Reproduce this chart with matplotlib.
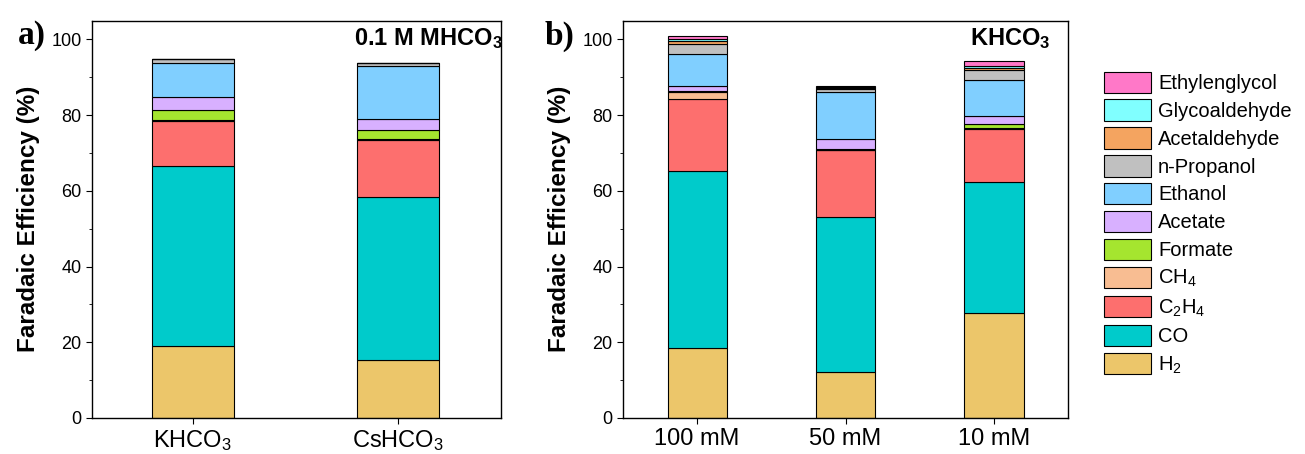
import matplotlib
matplotlib.use("Agg")
import matplotlib.pyplot as plt
from matplotlib.patches import Patch
from matplotlib.ticker import MultipleLocator
import numpy as np

plt.rcParams['font.family'] = ['Liberation Sans', 'DejaVu Sans']
plt.rcParams['mathtext.fontset'] = 'custom'
plt.rcParams['mathtext.rm'] = 'Liberation Sans'
plt.rcParams['mathtext.it'] = 'Liberation Sans:italic'
plt.rcParams['mathtext.bf'] = 'Liberation Sans:bold'
plt.rcParams['mathtext.default'] = 'regular'

# products, bottom to top
products = ['H$_2$', 'CO', 'C$_2$H$_4$', 'CH$_4$', 'Formate', 'Acetate', 'Ethanol',
            'n-Propanol', 'Acetaldehyde', 'Glycoaldehyde', 'Ethylenglycol']
colors = ['#ECC66A', '#00CBCB', '#FD6F6E', '#F8BD92', '#A5E52F', '#D8B0FF', '#80CFFF',
          '#C0C0C0', '#F4A460', '#80FFFF', '#FF78C8']

# panel a) faradaic efficiency (%) per product
cats_a = ['KHCO$_3$', 'CsHCO$_3$']
fe_khco3 = [19.1, 47.4, 11.9, 0.3, 2.7, 3.3, 9.2, 1.0, 0.0, 0.0, 0.0]
fe_cshco3 = [15.2, 43.1, 15.1, 0.3, 2.5, 2.8, 13.9, 0.8, 0.0, 0.0, 0.0]

# panel b) KHCO3 concentration
cats_b = ['100 mM', '50 mM', '10 mM']
fe_100 = [18.4, 46.9, 18.9, 1.9, 0.4, 1.2, 8.5, 2.7, 0.7, 0.4, 0.9]
fe_50 = [12.2, 40.9, 17.6, 0.2, 0.2, 2.6, 12.4, 0.8, 0.3, 0.2, 0.3]
fe_10 = [27.8, 34.5, 14.1, 0.3, 0.9, 2.3, 9.5, 2.5, 0.6, 0.6, 1.2]

fig = plt.figure(figsize=(13.05, 4.54), dpi=100)
ax_a = fig.add_axes([0.0705, 0.0793, 0.3134, 0.8755])
ax_b = fig.add_axes([0.4774, 0.0793, 0.3410, 0.8755])


def stacked(ax, cats, data, xlim):
	data = np.array(data)
	ind = np.arange(len(cats))
	bottom = np.zeros(len(cats))
	for i in range(len(products)):
		ax.bar(ind, data[:, i], 0.4, bottom=bottom, color=colors[i],
			   edgecolor='black', linewidth=0.8)
		bottom += data[:, i]
	ax.set_xlim(*xlim)
	ax.set_ylim(0, 105)
	ax.set_xticks(ind)
	ax.set_xticklabels(cats, fontsize=17)
	ax.set_yticks(np.arange(0, 101, 20))
	ax.yaxis.set_minor_locator(MultipleLocator(10))
	ax.tick_params(axis='y', labelsize=13, direction='out', length=4)
	ax.tick_params(axis='y', which='minor', length=2)
	ax.tick_params(axis='x', direction='out', length=4)
	ax.set_ylabel('Faradaic Efficiency (%)', fontsize=17.5, fontweight='bold', labelpad=8)
	for s in ax.spines.values():
		s.set_linewidth(1.0)


stacked(ax_a, cats_a, [fe_khco3, fe_cshco3], (-0.49, 1.5))
stacked(ax_b, cats_b, [fe_100, fe_50, fe_10], (-0.5, 2.5))

ax_a.text(1.005, 0.985, r'0.1 M MHCO$_\mathbf{3}$', transform=ax_a.transAxes,
		  ha='right', va='top', fontsize=17, fontweight='bold')
ax_b.text(0.96, 0.985, r'KHCO$_\mathbf{3}$', transform=ax_b.transAxes,
		  ha='right', va='top', fontsize=17, fontweight='bold')

fig.text(0.014, 0.955, 'a)', fontsize=24, fontweight='bold', family='Liberation Serif', va='top')
fig.text(0.417, 0.955, 'b)', fontsize=24, fontweight='bold', family='Liberation Serif', va='top')

handles = [Patch(facecolor=c, edgecolor='black', linewidth=0.8) for c in colors]
fig.legend(handles[::-1], products[::-1], loc='upper left', bbox_to_anchor=(0.8395, 0.86),
		   frameon=False, fontsize=14.5, handlelength=2.35, handleheight=1.25,
		   labelspacing=0.32, handletextpad=0.35, borderaxespad=0)

fig.savefig('out.png', dpi=100)
